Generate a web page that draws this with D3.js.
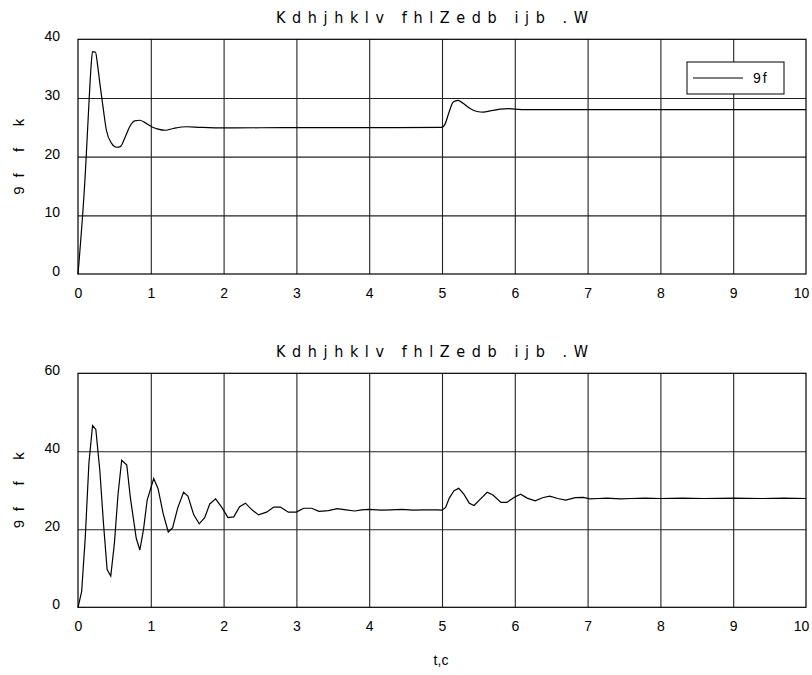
<!DOCTYPE html>
<html>
<head>
<meta charset="utf-8">
<script src="https://cdn.jsdelivr.net/npm/d3@7"></script>
<style>
  body { margin: 0; background: #fff; }
  text { font-family: "Liberation Sans", Arial, sans-serif; fill: #000; }
  .narrow { font-family: "Liberation Sans Narrow", "DejaVu Sans Condensed", sans-serif; }
</style>
</head>
<body>
<div id="chart"></div>
<script>
// series
const titleText = 'Kdhjhklv fhlZedb ijb .W'
const yLabelText = '9f   f  k'
const xLabelText = 't,c'
const legendText = '9f'

const xTicks = [0, 1, 2, 3, 4, 5, 6, 7, 8, 9, 10]
const topYTicks = [0, 10, 20, 30, 40]
const botYTicks = [0, 20, 40, 60]

const topT = [0, 0.1, 0.15, 0.18, 0.2, 0.24, 0.27, 0.3, 0.35, 0.39, 0.46, 0.53, 0.58, 0.65, 0.71, 0.78,
  0.85, 0.92, 1.01, 1.1, 1.2, 1.31, 1.49, 1.68, 2.0, 3.0, 4.0, 5.0, 5.04, 5.1, 5.155, 5.22, 5.29,
  5.385, 5.48, 5.57, 5.66, 5.8, 5.91, 6.0, 6.16, 7, 8, 9, 10]
const topV = [0, 17, 29, 35.5, 37.9, 37.8, 35.5, 32.5, 27.9, 24.5, 22.3, 21.6, 21.7, 23.4, 25.1, 26.1,
  26.2, 25.8, 25.1, 24.7, 24.5, 24.8, 25.1, 25.0, 24.9, 24.95, 24.95, 25.0, 25.5, 27.7, 29.3, 29.6, 29.1,
  28.2, 27.7, 27.6, 27.8, 28.1, 28.2, 28.1, 28.0, 28.0, 28.0, 28.0, 28.0]

const botT = [0, 0.05, 0.1, 0.15, 0.2, 0.245, 0.3, 0.35, 0.4, 0.45, 0.5, 0.55, 0.6, 0.67, 0.72, 0.8,
  0.85, 0.9, 0.95, 1.04, 1.1, 1.17, 1.24, 1.3, 1.37, 1.45, 1.51, 1.59, 1.665, 1.74, 1.81, 1.89, 1.98,
  2.06, 2.14, 2.22, 2.3, 2.39, 2.48, 2.59, 2.69, 2.78, 2.89, 3.0, 3.1, 3.21, 3.31, 3.44, 3.56, 3.68,
  3.8, 3.9, 4.0, 4.16, 4.3, 4.45, 4.6, 4.75, 4.93, 5.0, 5.05, 5.1, 5.165, 5.23, 5.3, 5.375, 5.44,
  5.53, 5.62, 5.7, 5.81, 5.89, 6.0, 6.08, 6.17, 6.28, 6.38, 6.48, 6.59, 6.7, 6.83, 6.94, 7.03, 7.15,
  7.26, 7.45, 7.6, 7.79, 8.0, 8.3, 8.6, 9.0, 9.4, 9.7, 10.0]
const botV = [0, 4, 18, 37, 46.6, 45.6, 35, 21.5, 9.7, 8.0, 16.4, 29, 37.7, 36.5, 28, 17.7,
  14.7, 20, 27.5, 33.0, 30.4, 24, 19.3, 20.4, 25.5, 29.5, 28.5, 23.7, 21.4, 23.0, 26.5, 27.8, 25.5,
  23.0, 23.2, 25.8, 26.7, 25.0, 23.7, 24.4, 25.7, 25.7, 24.4, 24.4, 25.4, 25.4, 24.6, 24.8, 25.3, 25.0,
  24.7, 25.0, 25.1, 24.9, 25.0, 25.1, 24.9, 25.0, 25.0, 24.9, 25.6, 28, 29.9, 30.5, 29, 26.7, 26.1,
  27.8, 29.5, 28.8, 26.9, 26.9, 28.3, 29.0, 28.0, 27.3, 28.1, 28.5, 27.9, 27.5, 28.1, 28.2, 27.8, 27.9,
  28.0, 27.8, 27.9, 28.0, 27.9, 28.0, 27.9, 28.0, 27.9, 28.0, 27.9]

const W = 812, H = 675
const left = 78, right = 806

const svg = d3.select('#chart').append('svg')
  .attr('width', W)
  .attr('height', H)

const x = d3.scaleLinear().domain([0, 10]).range([left, right])

function panel(top, bottom, yMax, yTicks, t, v, curve, titleY) {
  const y = d3.scaleLinear().domain([0, yMax]).range([bottom, top])
  const g = svg.append('g')

  // grid lines
  g.append('g')
    .attr('transform', `translate(0, ${bottom})`)
    .call(d3.axisBottom(x).tickValues(xTicks.slice(1, -1)).tickSize(-(bottom - top)).tickFormat(''))
    .call(a => a.select('.domain').remove())
    .call(a => a.selectAll('line').attr('stroke', '#222').attr('stroke-width', 1.1))
  g.append('g')
    .attr('transform', `translate(${left}, 0)`)
    .call(d3.axisLeft(y).tickValues(yTicks.slice(1, -1)).tickSize(-(right - left)).tickFormat(''))
    .call(a => a.select('.domain').remove())
    .call(a => a.selectAll('line').attr('stroke', '#222').attr('stroke-width', 1.1))

  // tick labels
  g.append('g')
    .attr('transform', `translate(0, ${bottom + 11})`)
    .call(d3.axisBottom(x).tickValues(xTicks).tickSize(0).tickFormat(d3.format('d')))
    .call(a => a.select('.domain').remove())
    .call(a => a.selectAll('text').attr('font-size', 14).attr('font-family', null))
    .call(a => a.selectAll('text').filter(d => d === 10).attr('dx', -5))
  g.append('g')
    .attr('transform', `translate(${left - 15}, -3)`)
    .call(d3.axisLeft(y).tickValues(yTicks).tickSize(0).tickFormat(d3.format('d')))
    .call(a => a.select('.domain').remove())
    .call(a => a.selectAll('text').attr('font-size', 14).attr('font-family', null))

  // box
  g.append('rect')
    .attr('x', left).attr('y', top)
    .attr('width', right - left).attr('height', bottom - top)
    .attr('fill', 'none').attr('stroke', '#000').attr('stroke-width', 1.2)

  const pts = t.map((d, i) => [d, v[i]])
  g.append('path')
    .datum(pts)
    .attr('fill', 'none')
    .attr('stroke', '#000')
    .attr('stroke-width', 1.2)
    .attr('d', d3.line().x(d => x(d[0])).y(d => y(d[1])).curve(curve))

  g.append('text')
    .attr('class', 'narrow')
    .attr('x', 276).attr('y', titleY)
    .attr('font-size', 16)
    .attr('textLength', 312)
    .attr('lengthAdjust', 'spacing')
    .text(titleText)

  g.append('text')
    .attr('transform', `translate(24, ${(top + bottom) / 2 + 38}) rotate(-90)`)
    .attr('font-size', 15)
    .attr('textLength', 76)
    .attr('lengthAdjust', 'spacing')
    .text(yLabelText)
}

panel(39.3, 274, 40, topYTicks, topT, topV, d3.curveMonotoneX, 23)
panel(373.3, 607.3, 60, botYTicks, botT, botV, d3.curveLinear, 357)

// legend
const lg = svg.append('g')
lg.append('rect')
  .attr('x', 687).attr('y', 62)
  .attr('width', 97).attr('height', 32)
  .attr('fill', '#fff').attr('stroke', '#000').attr('stroke-width', 1)
lg.append('line')
  .attr('x1', 693).attr('x2', 743).attr('y1', 78).attr('y2', 78)
  .attr('stroke', '#000').attr('stroke-width', 1.2)
lg.append('text')
  .attr('x', 753).attr('y', 83)
  .attr('font-size', 14)
  .attr('letter-spacing', 2)
  .text(legendText)

svg.append('text')
  .attr('x', 441).attr('y', 665)
  .attr('text-anchor', 'middle')
  .attr('font-size', 14)
  .text(xLabelText)
</script>
</body>
</html>
